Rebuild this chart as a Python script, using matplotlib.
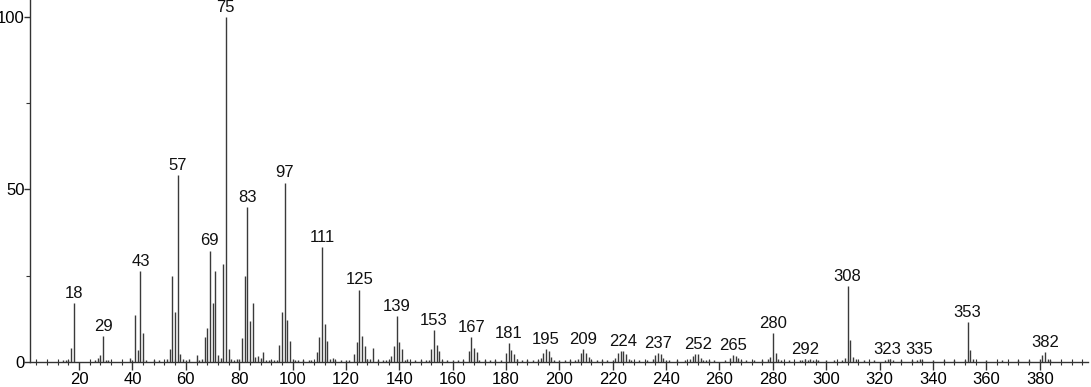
import matplotlib
matplotlib.use("Agg")
import matplotlib.pyplot as plt
from matplotlib.ticker import MultipleLocator

plt.rcParams['font.family'] = ['Liberation Sans', 'DejaVu Sans']

# m/z and relative intensity (%)
mz = [14, 15, 16, 17, 18, 26, 27, 28, 29, 30, 31,
      39, 40, 41, 42, 43, 44, 45, 48, 50, 53, 54, 55, 56, 57, 58, 59, 60, 61,
      64, 65, 66, 67, 68, 69, 70, 71, 72, 73, 74, 75, 76, 77, 78, 79, 80,
      81, 82, 83, 84, 85, 86, 87, 88, 89, 90, 91, 92, 93, 94,
      95, 96, 97, 98, 99, 100, 101, 102, 104, 106, 107,
      109, 110, 111, 112, 113, 114, 115, 116, 118, 120, 121,
      123, 124, 125, 126, 127, 128, 129, 130, 132, 134, 135,
      136, 137, 138, 139, 140, 141, 142, 143, 146, 148, 150, 151,
      152, 153, 154, 155, 156, 158, 160, 162, 164,
      166, 167, 168, 169, 170, 172, 174, 176, 178,
      180, 181, 182, 183, 184, 186, 188, 190, 192,
      193, 194, 195, 196, 197, 198, 200, 202, 204, 206,
      207, 208, 209, 210, 211, 212, 214, 216, 218, 220,
      221, 222, 223, 224, 225, 226, 227, 230, 233,
      235, 236, 237, 238, 239, 240, 241, 244, 247,
      249, 250, 251, 252, 253, 254, 255, 256, 258, 262,
      264, 265, 266, 267, 268, 270, 273, 276,
      278, 279, 280, 281, 282, 283, 286,
      290, 291, 292, 293, 294, 295, 296, 297, 300, 303,
      306, 307, 308, 309, 310, 311, 314, 318,
      322, 323, 324, 325, 328, 332,
      334, 335, 336, 340, 344, 348,
      352, 353, 354, 355, 360, 366, 372, 376,
      380, 381, 382, 383, 384]
intensity = [0.6, 0.7, 0.7, 4.0, 17.2, 0.5, 1.2, 2.1, 7.5, 0.5, 0.5,
             1.3, 0.5, 13.5, 3.5, 26.3, 8.3, 0.5, 0.6, 0.5, 1.0, 3.7, 25.0, 14.4, 54.2, 2.4, 0.8, 0.5, 0.8,
             2.1, 0.5, 0.8, 7.2, 9.8, 32.3, 17.2, 26.3, 2.1, 1.2, 28.4, 100.0, 3.7, 0.8, 0.5, 0.8, 0.8,
             7.0, 25.0, 45.0, 12.0, 17.2, 1.5, 1.7, 1.2, 3.0, 0.5, 0.5, 0.5, 0.5, 0.5,
             4.8, 14.4, 52.0, 12.2, 6.2, 1.0, 0.7, 0.5, 0.5, 0.5, 0.5,
             3.0, 7.3, 33.3, 11.0, 6.2, 0.8, 1.2, 0.5, 0.5, 0.5, 0.5,
             2.2, 5.7, 21.0, 7.5, 4.6, 0.8, 0.8, 4.0, 0.5, 0.5, 0.5,
             0.5, 1.7, 4.6, 13.3, 5.9, 3.8, 0.5, 0.8, 0.5, 0.5, 0.5, 0.5,
             3.7, 9.2, 4.9, 3.2, 0.5, 0.5, 0.5, 0.5, 0.5,
             3.3, 7.2, 4.0, 3.0, 0.5, 0.5, 0.5, 0.5, 0.5,
             2.6, 5.6, 3.6, 2.3, 0.8, 0.5, 0.5, 0.5, 0.5,
             1.2, 2.5, 3.8, 3.3, 1.4, 0.6, 0.5, 0.5, 0.5, 0.5,
             0.8, 2.6, 3.8, 2.6, 1.5, 0.6, 0.5, 0.5, 0.5, 0.5,
             1.2, 2.5, 3.2, 3.3, 2.3, 0.8, 0.5, 0.5, 0.5,
             1.0, 2.1, 2.5, 2.3, 1.2, 0.6, 0.5, 0.5, 0.5,
             1.0, 1.7, 2.2, 2.3, 1.3, 0.6, 0.5, 0.5, 0.5, 0.5,
             1.3, 2.1, 1.7, 1.2, 0.5, 0.5, 0.5, 0.5,
             0.8, 1.5, 8.3, 2.5, 1.0, 0.5, 0.5,
             0.6, 0.7, 0.8, 0.7, 0.8, 0.7, 0.6, 0.6, 0.5, 0.5,
             0.7, 1.2, 22.0, 6.3, 1.5, 0.8, 0.5, 0.5,
             0.7, 0.9, 1.0, 0.7, 0.5, 0.5,
             0.6, 0.9, 0.6, 0.5, 0.5, 0.5,
             0.5, 11.7, 3.4, 0.8, 0.5, 0.5, 0.5, 0.5,
             0.8, 1.9, 2.9, 1.0, 0.6]

labeled = [18, 29, 43, 57, 69, 75, 83, 97, 111, 125, 139, 153, 167, 181,
           195, 209, 224, 237, 252, 265, 280, 292, 308, 323, 335, 353, 382]

fig, ax = plt.subplots(figsize=(10.91, 3.87), dpi=100)
fig.subplots_adjust(left=0.0275, right=0.997, bottom=0.0646, top=1.0)

ax.vlines(mz, 0, intensity, colors='#3a3a3a', linewidth=1.0)

height = dict(zip(mz, intensity))
for m in labeled:
    ax.annotate(str(m), (m, height[m]), xytext=(0, 1.5), textcoords='offset points',
                ha='center', va='bottom', fontsize=12, color='#111111')

ax.set_xlim(1.6, 398)
ax.set_ylim(0, 104.9)
ax.xaxis.set_major_locator(MultipleLocator(20))
ax.xaxis.set_minor_locator(MultipleLocator(4))
ax.yaxis.set_major_locator(MultipleLocator(50))
ax.yaxis.set_minor_locator(MultipleLocator(25))

for s in ['top', 'right']:
    ax.spines[s].set_visible(False)
for s in ['left', 'bottom']:
    ax.spines[s].set_color('#333333')
    ax.spines[s].set_linewidth(1.0)

ax.tick_params(axis='x', which='major', direction='out', length=6, width=1,
               color='#333333', labelsize=12, pad=1)
ax.tick_params(axis='x', which='minor', direction='inout', length=5, width=0.8,
               color='#333333')
ax.tick_params(axis='y', which='major', direction='out', length=4, width=1,
               color='#333333', labelsize=12, pad=0)
ax.tick_params(axis='y', which='minor', direction='out', length=3, width=0.8,
               color='#333333')

ax.set_xticks(range(20, 400, 20))

plt.savefig("out.png", dpi=100)
